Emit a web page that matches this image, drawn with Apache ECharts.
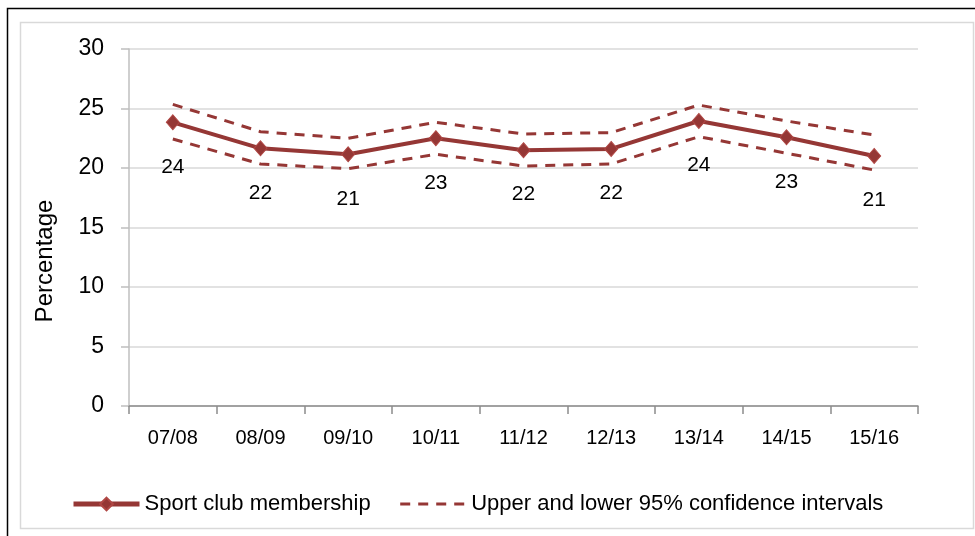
<!DOCTYPE html>
<html>
<head>
<meta charset="utf-8">
<script src="https://cdn.jsdelivr.net/npm/echarts@6/dist/echarts.min.js"></script>
<style>
  html, body { margin: 0; padding: 0; background: #fff; }
  #chart { width: 975px; height: 536px; }
</style>
</head>
<body>
<div id="chart"></div>
<script>
const seasons = ['07/08', '08/09', '09/10', '10/11', '11/12', '12/13', '13/14', '14/15', '15/16']
const membership = [23.84, 21.65, 21.15, 22.5, 21.5, 21.6, 23.95, 22.58, 21.01]
const upperCI = [25.35, 23.05, 22.5, 23.84, 22.86, 22.97, 25.29, 23.95, 22.77]
const lowerCI = [22.44, 20.34, 19.94, 21.15, 20.17, 20.34, 22.63, 21.24, 19.83]
const yTicks = [0, 5, 10, 15, 20, 25, 30]

const red = '#953735'
const font = '"Liberation Sans", Arial, sans-serif'
const ciName = 'Upper and lower 95% confidence intervals'

const chart = echarts.init(document.getElementById('chart'))

// dashed band around the main line
const ciSerie = (data) => ({
  name: ciName,
  type: 'line',
  data: data,
  symbol: 'none',
  silent: true,
  lineStyle: { color: red, width: 3, type: [10, 8] },
  itemStyle: { color: red },
  z: 2
})

chart.setOption({
  animation: false,
  textStyle: { fontFamily: font },
  graphic: [
    { type: 'rect', shape: { x: 7.5, y: 8.5, width: 980, height: 540 }, style: { fill: 'none', stroke: '#000', lineWidth: 1.5 }, silent: true },
    { type: 'rect', shape: { x: 20.5, y: 22.5, width: 953, height: 506 }, style: { fill: 'none', stroke: '#d9d9d9', lineWidth: 1.5 }, silent: true },
    {
      type: 'text', x: 45, y: 261, rotation: Math.PI / 2,
      style: { text: 'Percentage', font: '24px ' + font, fill: '#000', align: 'center', verticalAlign: 'middle' }
    }
  ],
  grid: { left: 129, right: 57, top: 49, bottom: 130 },
  legend: {
    left: 66,
    top: 488,
    itemWidth: 66,
    itemHeight: 16,
    itemGap: 28,
    textStyle: { fontSize: 22, color: '#000', fontFamily: font },
    data: [
      { name: 'Sport club membership', lineStyle: { width: 5 } },
      { name: ciName, itemStyle: { opacity: 0 }, lineStyle: { width: 3 } }
    ]
  },
  xAxis: {
    type: 'category',
    data: seasons,
    boundaryGap: true,
    axisLine: { lineStyle: { color: '#8c8c8c', width: 1.5 } },
    axisTick: { show: true, length: 8, lineStyle: { color: '#8c8c8c', width: 1.5 } },
    axisLabel: { color: '#000', fontSize: 20, margin: 22 }
  },
  yAxis: {
    type: 'value',
    min: yTicks[0],
    max: yTicks[yTicks.length - 1],
    interval: 5,
    axisLine: { show: true, lineStyle: { color: '#bfbfbf', width: 1.5 } },
    axisTick: { show: true, length: 8, lineStyle: { color: '#bfbfbf', width: 1.5 } },
    axisLabel: { color: '#000', fontSize: 23, margin: 25 },
    splitLine: { lineStyle: { color: '#d9d9d9', width: 1.5 } }
  },
  series: [
    ciSerie(upperCI),
    ciSerie(lowerCI),
    {
      name: 'Sport club membership',
      type: 'line',
      data: membership,
      symbol: 'diamond',
      symbolSize: [13, 15],
      lineStyle: { color: red, width: 4 },
      itemStyle: { color: red, borderColor: '#b04744', borderWidth: 1 },
      label: {
        show: true,
        position: 'bottom',
        distance: 26,
        color: '#000',
        fontSize: 21,
        fontFamily: font,
        formatter: p => Math.round(p.value)
      },
      z: 3
    }
  ]
})
</script>
</body>
</html>
